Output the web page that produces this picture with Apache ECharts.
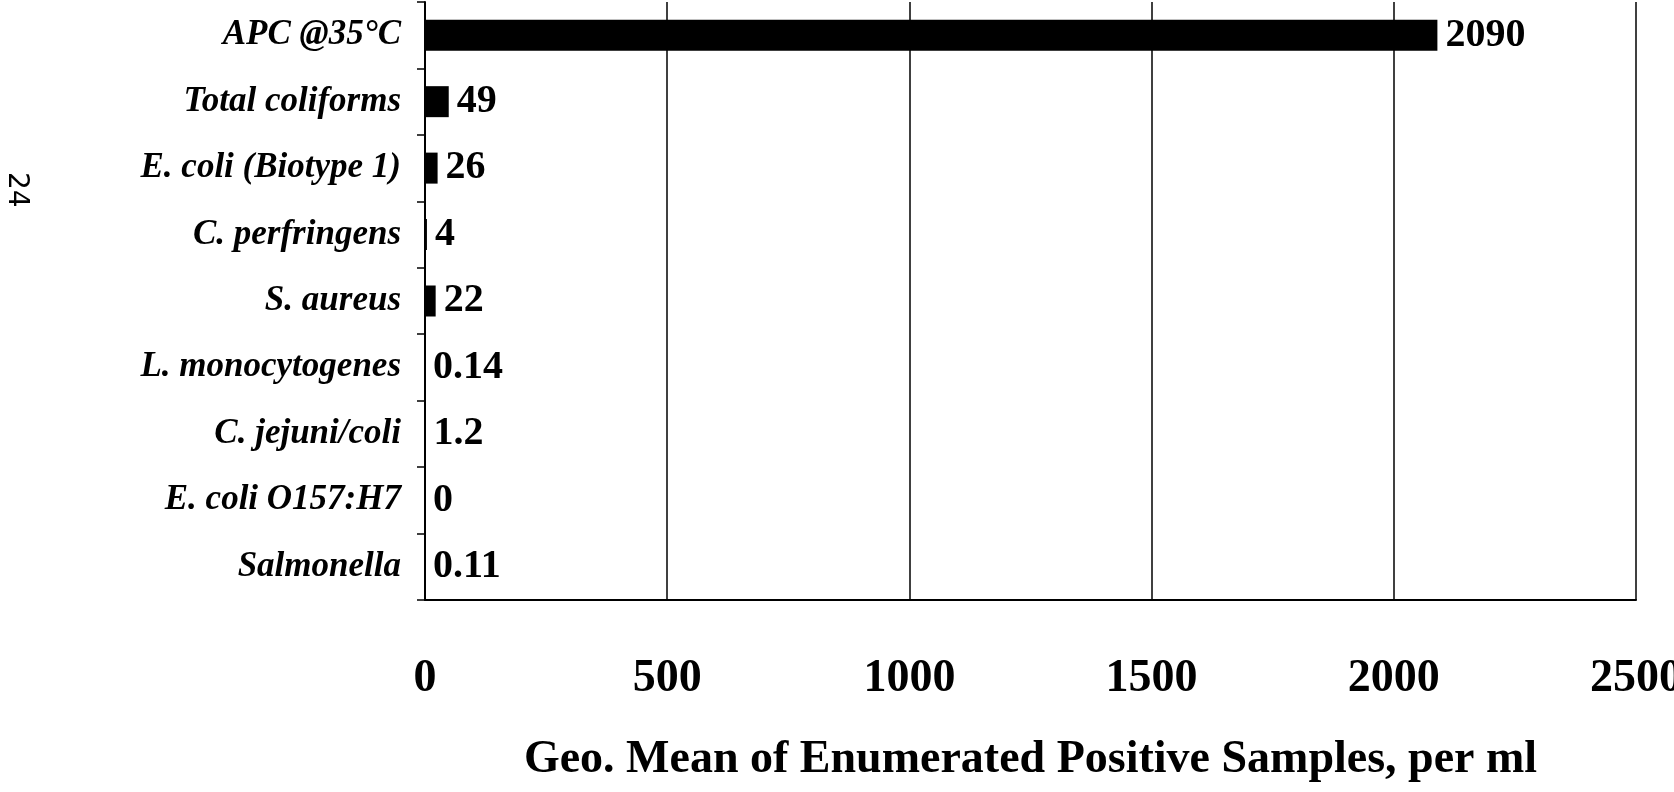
<!DOCTYPE html>
<html>
<head>
<meta charset="utf-8">
<script src="https://cdn.jsdelivr.net/npm/echarts@6/dist/echarts.min.js"></script>
<style>
html, body { margin: 0; padding: 0; background: #fff; }
#main { width: 1674px; height: 792px; }
</style>
</head>
<body>
<div id="main"></div>
<script>
// categories, top to bottom
var categories = ['APC @35\u00b0C', 'Total coliforms', 'E. coli (Biotype 1)', 'C. perfringens', 'S. aureus',
  'L. monocytogenes', 'C. jejuni/coli', 'E. coli O157:H7', 'Salmonella']
// geo. mean values
var values = [2090, 49, 26, 4, 22, 0.14, 1.2, 0, 0.11]
var xTicks = [0, 500, 1000, 1500, 2000, 2500]

var serif = '"Liberation Serif", "Times New Roman", serif'

var myChart = echarts.init(document.getElementById('main'))
myChart.setOption({
  backgroundColor: '#fff',
  animation: false,
  grid: {
    left: 425,
    right: 38,
    top: 2,
    bottom: 192,
    outerBoundsMode: 'none'
  },
  xAxis: {
    type: 'value',
    min: xTicks[0],
    max: xTicks[xTicks.length - 1],
    interval: 500,
    name: 'Geo. Mean of Enumerated Positive Samples, per ml',
    nameLocation: 'middle',
    nameGap: 160,
    nameTextStyle: {
      fontFamily: serif,
      fontWeight: 'bold',
      fontSize: 46,
      color: '#000',
      verticalAlign: 'middle'
    },
    axisLine: { show: true, lineStyle: { color: '#000', width: 2 } },
    axisTick: { show: false },
    axisLabel: {
      margin: 56,
      fontFamily: serif,
      fontWeight: 'bold',
      fontSize: 46,
      color: '#000',
      formatter: function (v) { return String(v) }
    },
    splitLine: { show: true, lineStyle: { color: '#000', width: 1.5 } }
  },
  yAxis: {
    type: 'category',
    data: categories,
    inverse: true,
    axisLine: { show: true, lineStyle: { color: '#000', width: 2 } },
    axisTick: { show: true, length: 8, lineStyle: { color: '#000', width: 1.5 } },
    axisLabel: {
      margin: 24,
      fontFamily: serif,
      fontStyle: 'italic',
      fontWeight: 'bold',
      fontSize: 35,
      color: '#000'
    }
  },
  series: [
    {
      type: 'bar',
      data: values,
      barWidth: 31,
      itemStyle: { color: '#000' },
      label: {
        show: true,
        position: 'right',
        distance: 8,
        fontFamily: serif,
        fontWeight: 'bold',
        fontSize: 40,
        color: '#000'
      }
    }
  ],
  graphic: [
    {
      type: 'text',
      left: 2,
      top: 172,
      rotation: -Math.PI / 2,
      style: {
        text: '24',
        fontFamily: '"DejaVu Sans", sans-serif',
        fontSize: 28,
        fill: '#000'
      }
    }
  ]
})
</script>
</body>
</html>
